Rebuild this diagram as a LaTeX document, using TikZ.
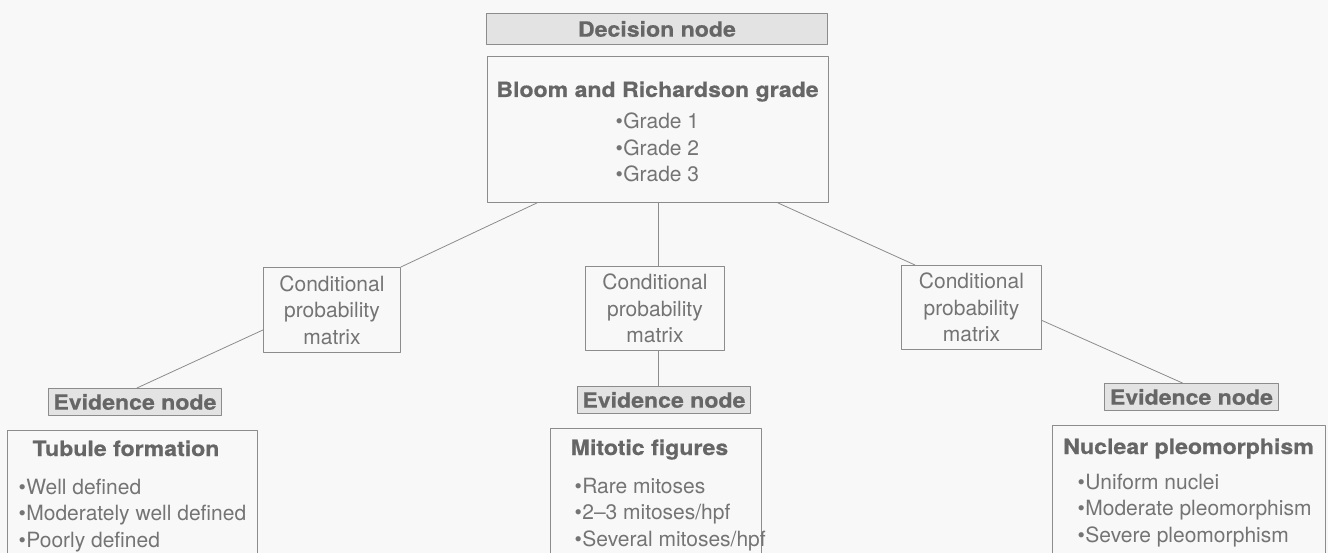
\documentclass[tikz,border=0pt]{standalone}
\usepackage{fontspec}
\setmainfont{TeX Gyre Heros}
\newfontfamily\bnheadfont[FakeStretch=1.1,BoldFeatures={FakeBold=0.6}]{TeX Gyre Heros}
\usepackage{xcolor}
\usepackage{tikz}
\usetikzlibrary{positioning}
\definecolor{bnInk}{HTML}{747474}
\definecolor{bnHeadInk}{HTML}{666666}
\definecolor{bnLine}{HTML}{8C8C8C}
\definecolor{bnShade}{HTML}{E3E3E3}
\definecolor{bnPaper}{HTML}{F8F8F8}
\tikzset{
  bn diagram/.style={x=1pt, y=-1pt, text=bnInk,
    font=\fontsize{21}{26.5}\selectfont,
    line cap=round, line join=round},
  bn box/.style={draw=bnLine, line width=0.9pt, anchor=north west,
    inner sep=0pt},
  bn tag/.style={bn box, fill=bnShade, text=bnHeadInk,
    font=\bnheadfont\bfseries\fontsize{21}{24}\selectfont},
  bn matrix/.style={bn box, align=center},
  bn head/.style={anchor=base, text=bnHeadInk,
    font=\bnheadfont\bfseries\fontsize{21}{24}\selectfont},
  bn item/.style={anchor=base west},
  bn link/.style={draw=bnLine, line width=0.8pt}
}
\newcommand{\bnitem}[1]{\textbullet\kern0.5pt#1}

\begin{document}
\begin{tikzpicture}[bn diagram]
\useasboundingbox (0,0) rectangle (1328,553);
\clip (0,0) rectangle (1328,553);
\fill[bnPaper] (0,0) rectangle (1328,553);
% decision node
\node[bn tag, minimum width=341pt, minimum height=31pt] (decision) at (486,13) {Decision node};
\node[bn box, minimum width=341pt, minimum height=146pt] (bloom) at (487,56) {};
\node[bn head] (bloomTitle) at (657.5,97) {Bloom and Richardson grade};
\foreach \y/\g in {129/1,155.5/2,182/3}{
  \node[bn item] (grade\g) at (612,\y) {\bnitem{Grade \g}};
}
% conditional probability matrices
\node[bn matrix, minimum width=137pt, minimum height=85pt] (cpmL) at (263,267) {Conditional\\probability\\matrix};
\node[bn matrix, minimum width=139pt, minimum height=84pt] (cpmM) at (585,266) {Conditional\\probability\\matrix};
\node[bn matrix, minimum width=140pt, minimum height=84pt] (cpmR) at (901,265) {Conditional\\probability\\matrix};
% evidence nodes
\node[bn tag, minimum width=173pt, minimum height=27pt] (evL) at (48,388) {Evidence node};
\node[bn tag, minimum width=173pt, minimum height=27pt] (evM) at (577,386) {Evidence node};
\node[bn tag, minimum width=174pt, minimum height=27pt] (evR) at (1104,383) {Evidence node};
% evidence boxes (run off the page)
\node[bn box, minimum width=250pt, minimum height=200pt] (tubule) at (7,430) {};
\node[bn box, minimum width=211pt, minimum height=200pt] (mitotic) at (550,428) {};
\node[bn box, minimum width=273pt, minimum height=200pt] (nuclear) at (1052,425) {};
\node[bn head] (tubuleTitle) at (126,456) {Tubule formation};
\node[bn head] (mitoticTitle) at (649.5,455) {Mitotic figures};
\node[bn head] (nuclearTitle) at (1188.5,454) {Nuclear pleomorphism};
\foreach \y/\n/\txt in {494/1/{Well defined},520.5/2/{Moderately well defined},547/3/{Poorly defined}}{
  \node[bn item] (tubule\n) at (15,\y) {\bnitem{\txt}};
}
\foreach \y/\n/\txt in {493/1/{Rare mitoses},519.5/2/{2--3 mitoses/hpf},546/3/{Several mitoses/hpf}}{
  \node[bn item] (mitotic\n) at (571,\y) {\bnitem{\txt}};
}
\foreach \y/\n/\txt in {489/1/{Uniform nuclei},515.5/2/{Moderate pleomorphism},542/3/{Severe pleomorphism}}{
  \node[bn item] (nuclear\n) at (1074,\y) {\bnitem{\txt}};
}
% connectors
\draw[bn link] ([xshift=50pt]bloom.south west) -- (cpmL.north east);
\draw[bn link] (bloom.south) -- (bloom.south |- cpmM.north);
\draw[bn link] ([xshift=-51pt]bloom.south east) -- ([xshift=14pt]cpmR.north west);
\draw[bn link] ([yshift=-20pt]cpmL.west) -- ([xshift=2pt]evL.north);
\draw[bn link] (cpmM.south -| bloom.south) -- (bloom.south |- evM.north);
\draw[bn link] ([yshift=-13pt]cpmR.east) -- ([xshift=-9pt]evR.north);
\end{tikzpicture}
\end{document}
